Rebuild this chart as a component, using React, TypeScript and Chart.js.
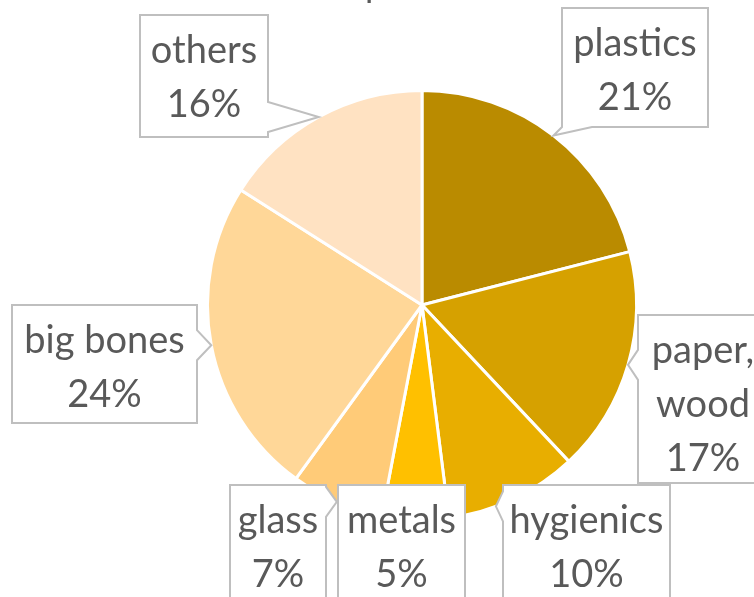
import React, { useEffect, useRef } from "react";
import { Chart, registerables } from "chart.js";

Chart.register(...registerables);

const categories = ["plastics", "paper, wood", "hygienics", "metals", "glass", "big bones", "others"];
const shares = [21, 17, 10, 5, 7, 24, 16];
const sliceColors = ["#BA8B00", "#D6A100", "#E8AE00", "#FFC000", "#FFCB78", "#FFD798", "#FFE2C2"];
const chartTitle = "Composition";

// callout layout (annotation boxes): [left, top, width, height], pointer edge, pointer position within slice
const calloutBoxes: [number, number, number, number][] = [
  [562, 8, 146, 119],
  [638, 315, 130, 168],
  [503, 485, 167, 130],
  [338, 485, 127, 130],
  [230, 485, 96, 130],
  [12, 305, 185, 118],
  [140, 15, 128, 122],
];
const calloutEdges: (string | null)[] = ["b", "l", "l", null, "r", "r", "r"];
const calloutTipFrac = [0.5, 0.5, 0.64, 0.5, 0.5, 0.5, 0.5];

const FONT = "38px Lato, 'Open Sans', sans-serif";

function clamp(v: number, a: number, b: number) {
  return Math.max(a, Math.min(b, v));
}

const calloutPlugin = {
  id: "callouts",
  afterDraw(chart: any) {
    const ctx = chart.ctx as CanvasRenderingContext2D;
    const meta = chart.getDatasetMeta(0);
    const total = shares.reduce((a, b) => a + b, 0);

    // title (cut off above the visible area)
    ctx.save();
    ctx.font = "36px Lato, 'Open Sans', sans-serif";
    ctx.fillStyle = "#595959";
    ctx.textAlign = "center";
    ctx.textBaseline = "alphabetic";
    ctx.fillText(chartTitle, 392, -3);
    ctx.restore();

    meta.data.forEach((arc: any, i: number) => {
      const p = arc.getProps(["x", "y", "startAngle", "endAngle", "outerRadius"], true);
      const ang = p.startAngle + calloutTipFrac[i] * (p.endAngle - p.startAngle);
      const tx = p.x + Math.cos(ang) * p.outerRadius;
      const ty = p.y + Math.sin(ang) * p.outerRadius;
      const [L, T, W, H] = calloutBoxes[i];
      const R = L + W;
      const B = T + H;
      const edge = calloutEdges[i];
      const hw = 15;

      ctx.save();
      ctx.beginPath();
      ctx.moveTo(L, T);
      if (edge === "t") {
        const c = clamp(tx, L + hw, R - hw);
        ctx.lineTo(c - hw, T);
        ctx.lineTo(tx, ty);
        ctx.lineTo(c + hw, T);
      }
      ctx.lineTo(R, T);
      if (edge === "r") {
        const c = clamp(ty, T + hw, B - hw);
        ctx.lineTo(R, c - hw);
        ctx.lineTo(tx, ty);
        ctx.lineTo(R, c + hw);
      }
      ctx.lineTo(R, B);
      if (edge === "b") {
        const c = clamp(tx, L + hw, R - hw);
        ctx.lineTo(c + hw, B);
        ctx.lineTo(tx, ty);
        ctx.lineTo(c - hw, B);
      }
      ctx.lineTo(L, B);
      if (edge === "l") {
        const c = clamp(ty, T + hw, B - hw);
        ctx.lineTo(L, c + hw);
        ctx.lineTo(tx, ty);
        ctx.lineTo(L, c - hw);
      }
      ctx.closePath();
      ctx.fillStyle = "#FFFFFF";
      ctx.fill();
      ctx.lineWidth = 2;
      ctx.strokeStyle = "#BFBFBF";
      ctx.lineJoin = "miter";
      ctx.stroke();

      const name = categories[i];
      const lines = name.includes(", ") ? name.split(", ").map((s, k, arr) => (k < arr.length - 1 ? s + "," : s)) : [name];
      lines.push(Math.round((shares[i] / total) * 100) + "%");
      ctx.font = FONT;
      ctx.fillStyle = "#595959";
      ctx.textAlign = "center";
      ctx.textBaseline = "middle";
      const cx = L + W / 2;
      lines.forEach((ln, k) => {
        ctx.fillText(ln, cx, T + 36 + k * 54);
      });
      ctx.restore();
    });
  },
};

export default function App() {
  const ref = useRef<HTMLCanvasElement>(null);
  useEffect(() => {
    if (!ref.current) return;
    const chart = new Chart(ref.current, {
      type: "pie",
      data: {
        labels: categories,
        datasets: [
          {
            data: shares,
            backgroundColor: sliceColors,
            borderColor: "#FFFFFF",
            borderWidth: 3,
          },
        ],
      },
      options: {
        responsive: false,
        animation: false,
        devicePixelRatio: 1,
        layout: { padding: { left: 206, right: 116, top: 89, bottom: 76 } },
        plugins: {
          legend: { display: false },
          tooltip: { enabled: false },
          title: { display: false },
        },
      },
      plugins: [calloutPlugin],
    });
    return () => chart.destroy();
  }, []);
  return (
    <div style={{ position: "absolute", left: 0, top: 0, width: 754, height: 597, background: "#fff" }}>
      <canvas ref={ref} width={754} height={597} style={{ width: 754, height: 597, display: "block" }} />
    </div>
  );
}
